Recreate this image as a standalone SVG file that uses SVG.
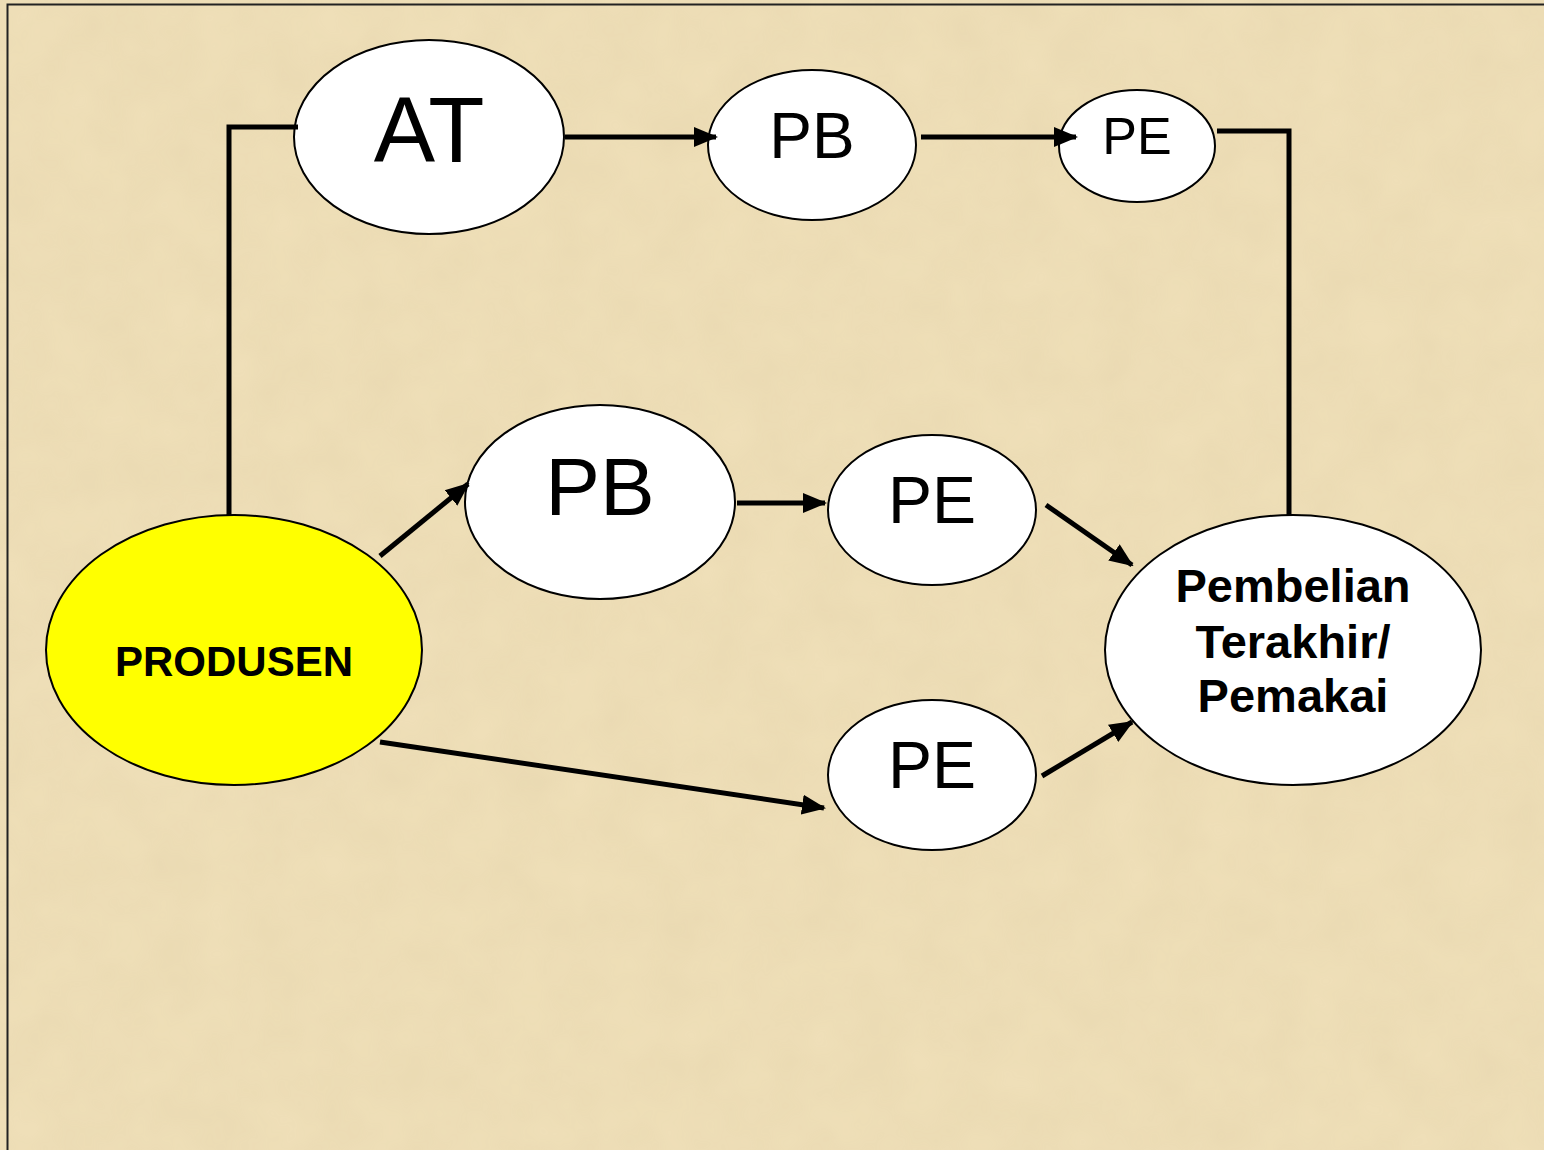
<svg xmlns="http://www.w3.org/2000/svg" width="1544" height="1150" viewBox="0 0 1544 1150">
<style>
.node{fill:#fff;stroke:#000;stroke-width:2}
.prod{fill:#ffff00;stroke:#000;stroke-width:2}
.lbl{font-family:"Liberation Sans",Arial,sans-serif;fill:#000;text-anchor:middle}
.b{font-weight:bold}
.con{fill:none;stroke:#000;stroke-width:5}
</style>
<defs>
<marker id="ah" markerUnits="userSpaceOnUse" markerWidth="24" markerHeight="22" refX="22" refY="11" orient="auto">
<path d="M0,1 L24,11 L0,21 Z" fill="#000"/>
</marker>
<filter id="tex" x="0" y="0" width="100%" height="100%">
<feTurbulence type="fractalNoise" baseFrequency="0.02" numOctaves="3" seed="4"/>
<feColorMatrix type="matrix" values="0 0 0 0 0.55  0 0 0 0 0.45  0 0 0 0 0.25  0 0 0 0.35 -0.05"/>
<feComposite in2="SourceGraphic" operator="in"/>
</filter>
</defs>
<rect width="1544" height="1150" fill="#efdfb8"/>
<rect width="1544" height="1150" fill="#efdfb8" filter="url(#tex)" opacity="0.4"/>
<rect x="7.5" y="4.5" width="1540" height="1150" fill="none" stroke="#222" stroke-width="2"/>
<g id="node-at">
<ellipse class="node" cx="429" cy="137" rx="135" ry="97"/>
<text class="lbl" x="429" y="162" font-size="92">AT</text>
</g>
<g id="node-pb-top">
<ellipse class="node" cx="812" cy="145" rx="104" ry="75"/>
<text class="lbl" x="812" y="158" font-size="64">PB</text>
</g>
<g id="node-pe-top">
<ellipse class="node" cx="1137" cy="146" rx="78" ry="56"/>
<text class="lbl" x="1137" y="154" font-size="52">PE</text>
</g>
<g id="node-pb-mid">
<ellipse class="node" cx="600" cy="502" rx="135" ry="97"/>
<text class="lbl" x="600" y="515" font-size="82">PB</text>
</g>
<g id="node-pe-mid">
<ellipse class="node" cx="932" cy="510" rx="104" ry="75"/>
<text class="lbl" x="932" y="523" font-size="66">PE</text>
</g>
<g id="node-pe-bot">
<ellipse class="node" cx="932" cy="775" rx="104" ry="75"/>
<text class="lbl" x="932" y="788" font-size="66">PE</text>
</g>
<g id="node-produsen">
<ellipse class="prod" cx="234" cy="650" rx="188" ry="135"/>
<text class="lbl b" x="234" y="676" font-size="42">PRODUSEN</text>
</g>
<g id="node-pembelian">
<ellipse class="node" cx="1293" cy="650" rx="188" ry="135"/>
<text class="lbl b" x="1293" y="602" font-size="47">Pembelian</text>
<text class="lbl b" x="1293" y="658" font-size="47">Terakhir/</text>
<text class="lbl b" x="1293" y="712" font-size="47">Pemakai</text>
</g>
<g id="connectors">
<polyline class="con" points="229,515 229,127 298,127"/>
<line class="con" x1="565" y1="137" x2="716" y2="137" marker-end="url(#ah)"/>
<line class="con" x1="921" y1="137" x2="1076" y2="137" marker-end="url(#ah)"/>
<polyline class="con" points="1217,131 1289,131 1289,516"/>
<line class="con" x1="380" y1="556" x2="468" y2="484" marker-end="url(#ah)"/>
<line class="con" x1="737" y1="503" x2="825" y2="503" marker-end="url(#ah)"/>
<line class="con" x1="1046" y1="505" x2="1132" y2="565" marker-end="url(#ah)"/>
<line class="con" x1="380" y1="742" x2="824" y2="808" marker-end="url(#ah)"/>
<line class="con" x1="1042" y1="776" x2="1132" y2="722" marker-end="url(#ah)"/>
</g>
</svg>
